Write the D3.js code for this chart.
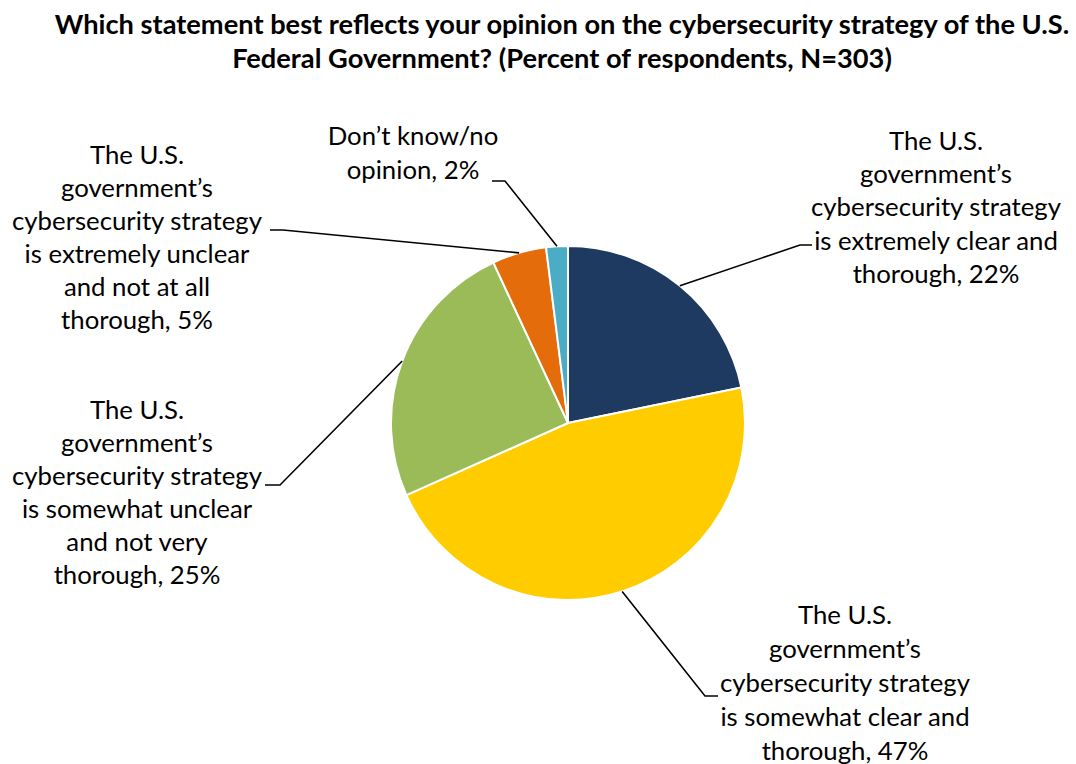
<!DOCTYPE html>
<html>
<head>
<meta charset="utf-8">
<script src="https://cdn.jsdelivr.net/npm/d3@7"></script>
<style>
  html, body { margin: 0; padding: 0; background: #fff; }
  svg { display: block; }
  text { font-family: Lato, "Open Sans", "Liberation Sans", sans-serif; fill: #000; }
</style>
</head>
<body>
<svg id="chart" width="1076" height="764"></svg>
<script>
// Survey answers, in drawing order (clockwise from 12 o'clock)
const categories = [
  "The U.S. government’s cybersecurity strategy is extremely clear and thorough",
  "The U.S. government’s cybersecurity strategy is somewhat clear and thorough",
  "The U.S. government’s cybersecurity strategy is somewhat unclear and not very thorough",
  "The U.S. government’s cybersecurity strategy is extremely unclear and not at all thorough",
  "Don’t know/no opinion"
];
const values = [22, 47, 25, 5, 2];
const colors = ["#1f3a60", "#ffcc00", "#9bbb59", "#e46c0a", "#4bacc6"];

// Wrapped label lines for each slice
const labelLines = [
  ["The U.S.", "government’s", "cybersecurity strategy", "is extremely clear and", "thorough, 22%"],
  ["The U.S.", "government’s", "cybersecurity strategy", "is somewhat clear and", "thorough, 47%"],
  ["The U.S.", "government’s", "cybersecurity strategy", "is somewhat unclear", "and not very", "thorough, 25%"],
  ["The U.S.", "government’s", "cybersecurity strategy", "is extremely unclear", "and not at all", "thorough, 5%"],
  ["Don’t know/no", "opinion, 2%"]
];

const titleLines = [
  "Which statement best reflects your opinion on the cybersecurity strategy of the U.S.",
  "Federal Government? (Percent of respondents, N=303)"
];

const svg = d3.select("#chart");

// Title
const title = svg.append("g").attr("font-weight", "bold");
title.selectAll("text").data(titleLines).join("text")
  .attr("x", 562)
  .attr("y", (d, i) => 34 + i * 34)
  .attr("text-anchor", "middle")
  .attr("font-size", 22)
  .attr("font-weight", "bold")
  .text(d => d);
// fit the first title line to its set width
(function fitTitle() {
  const t = title.select("text").node();
  const w = t.getComputedTextLength();
  const s = 22 * 1015 / w;
  title.selectAll("text").attr("font-size", s);
})();

// Pie
const cx = 568, cy = 423, r = 177;
const pie = d3.pie().sort(null).value(d => d)(values);
const arc = d3.arc().innerRadius(0).outerRadius(r);

const g = svg.append("g").attr("transform", `translate(${cx},${cy})`);
g.selectAll("path").data(pie).join("path")
  .attr("d", arc)
  .attr("fill", (d, i) => colors[i])
  .attr("stroke", "#fff")
  .attr("stroke-width", 2)
  .attr("stroke-linejoin", "round");

// Label placement: text block centre x, first baseline, line height,
// and the leader's elbow and end points
const labelSpecs = [
  { x: 936, y: 150, h: 33.2, elbow: [800, 245], end: [812, 245] },
  { x: 845, y: 624, h: 34, elbow: [705, 696], end: [718, 696] },
  { x: 137, y: 419, h: 33, elbow: [280, 485], end: [265, 485] },
  { x: 137, y: 164, h: 33, elbow: [283, 230], end: [270, 230] },
  { x: 413, y: 145, h: 34, elbow: [505, 181], end: [492, 181] }
];

// Font size fitted so "cybersecurity strategy" spans about 250px
const probe = svg.append("text").attr("font-size", 100).text("cybersecurity strategy");
const labelSize = 100 * 250 / probe.node().getComputedTextLength();
probe.remove();

const labels = svg.append("g");
pie.forEach((p, i) => {
  const spec = labelSpecs[i];
  const t = labels.append("text")
    .attr("text-anchor", "middle")
    .attr("font-size", labelSize);
  t.selectAll("tspan").data(labelLines[i]).join("tspan")
    .attr("x", spec.x)
    .attr("y", (d, k) => spec.y + k * spec.h)
    .text(d => d);

  const mid = (p.startAngle + p.endAngle) / 2;
  const start = [cx + r * Math.sin(mid), cy - r * Math.cos(mid)];
  labels.append("path")
    .attr("d", d3.line()([start, spec.elbow, spec.end]))
    .attr("fill", "none")
    .attr("stroke", "#000")
    .attr("stroke-width", 1.6);
});
</script>
</body>
</html>
